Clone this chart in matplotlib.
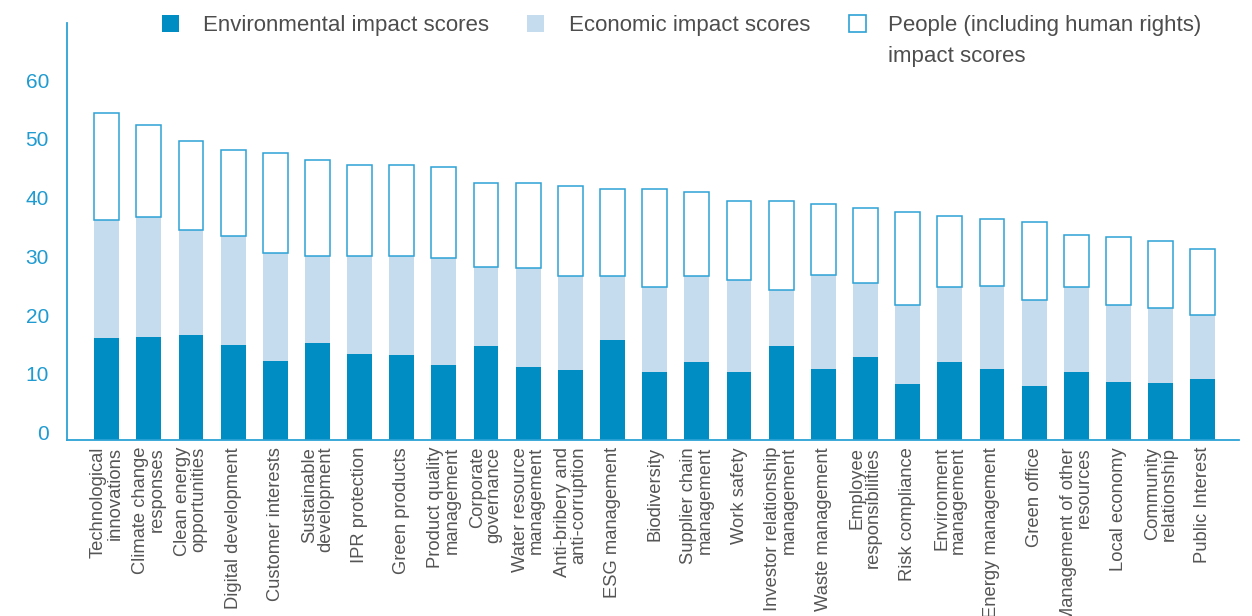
import numpy as np
import matplotlib.pyplot as plt
from matplotlib.patches import Rectangle

plt.rcParams['font.family'] = ['Liberation Sans', 'DejaVu Sans']

#### data
categories = [
    "Technological\ninnovations", "Climate change\nresponses", "Clean energy\nopportunities",
    "Digital development", "Customer interests", "Sustainable\ndevelopment",
    "IPR protection", "Green products", "Product quality\nmanagement",
    "Corporate\ngovernance", "Water resource\nmanagement", "Anti-bribery and\nanti-corruption",
    "ESG management", "Biodiversity", "Supplier chain\nmanagement", "Work safety",
    "Investor relationship\nmanagement", "Waste management", "Employee\nresponsibilities",
    "Risk compliance", "Environment\nmanagement", "Energy management", "Green office",
    "Management of other\nresources", "Local economy", "Community\nrelationship",
    "Public Interest",
]
env_scores = [17.3, 17.5, 17.9, 16.2, 13.5, 16.5, 14.6, 14.5, 12.8, 16.0, 12.5, 11.9, 17.0, 11.6,
              13.3, 11.6, 16.0, 12.1, 14.1, 9.5, 13.3, 12.1, 9.2, 11.6, 9.9, 9.7, 10.4]
eco_scores = [20.1, 20.4, 17.8, 18.5, 18.3, 14.8, 16.7, 16.8, 18.2, 13.4, 16.8, 16.0, 10.9, 14.4,
              14.6, 15.6, 9.5, 16.0, 12.6, 13.5, 12.7, 14.1, 14.6, 14.4, 13.1, 12.7, 10.9]
people_scores = [18.3, 15.8, 15.2, 14.7, 17.0, 16.3, 15.5, 15.5, 15.4, 14.4, 14.5, 15.4, 14.8, 16.7,
                 14.3, 13.5, 15.2, 12.1, 12.8, 15.8, 12.1, 11.4, 13.3, 8.9, 11.5, 11.4, 11.2]
legend_labels = ["Environmental impact scores", "Economic impact scores",
                 "People (including human rights)\nimpact scores"]

#### colours
dark_blue = "#008dc4"
light_blue = "#c5dcee"
line_blue = "#2ca2d5"
text_grey = "#555555"

W, H = 1252, 616
fig = plt.figure(figsize=(W/100, H/100), dpi=100)
ax = fig.add_axes([67/W, 1-440/H, (1239-67)/W, (440-23)/H])

x = np.arange(len(categories))
env = np.array(env_scores)
eco = np.array(eco_scores)
ppl = np.array(people_scores)
bw = 0.59

ax.bar(x, env, bw, color=dark_blue, linewidth=0)
ax.bar(x, eco, bw, bottom=env, color=light_blue, linewidth=0)
ax.bar(x, ppl, bw, bottom=env+eco, facecolor="white", edgecolor=line_blue, linewidth=1.1)

ax.set_xlim(-0.94, 26.86)
ax.set_ylim(0, 71)

for s in ["top", "right"]:
    ax.spines[s].set_visible(False)
for s in ["left", "bottom"]:
    ax.spines[s].set_color(line_blue)
    ax.spines[s].set_linewidth(1.3)

ax.set_yticks(np.arange(0, 61, 10))
ax.tick_params(axis="y", length=0, pad=13, labelsize=15, labelcolor="#1f9bd1")
plt.setp(ax.get_yticklabels(), va="baseline")

ax.set_xticks(x)
ax.set_xticklabels(categories, rotation=90, ha="center", va="top", multialignment="right",
                   linespacing=0.95, fontsize=13.2, color=text_grey)
ax.tick_params(axis="x", length=0, pad=5)

#### legend drawn by hand (marker lines up with the first text line)
marker_x = [162, 527, 849]
text_x = [203, 569, 888]
styles = [dict(facecolor=dark_blue, edgecolor="none"),
          dict(facecolor=light_blue, edgecolor="none"),
          dict(facecolor="white", edgecolor=line_blue, linewidth=1.2)]
for mx, tx, lab, st in zip(marker_x, text_x, legend_labels, styles):
    fig.add_artist(Rectangle((mx/W, 1-32/H), 17/W, 17/H, transform=fig.transFigure, **st))
    fig.text(tx/W, 1-15/H, lab, fontsize=16, color="#4d4d4d", va="top",
             linespacing=1.6, transform=fig.transFigure)

fig.savefig("out.png", dpi=100)
